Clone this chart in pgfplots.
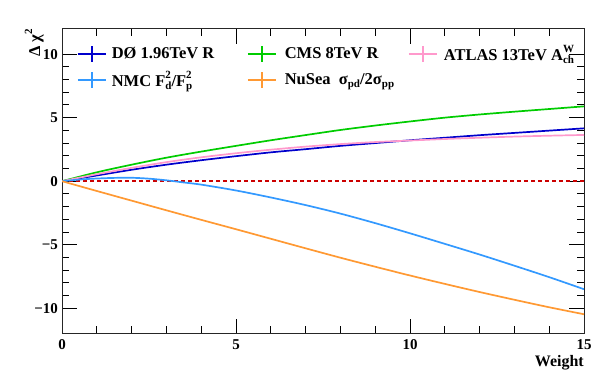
\documentclass[border=0pt]{standalone}
\usepackage{fontspec}
\setmainfont{Liberation Serif}
\usepackage{pgfplots}
\pgfplotsset{compat=1.18}
\definecolor{cDO}{RGB}{0,0,204}
\definecolor{cCMS}{RGB}{0,204,0}
\definecolor{cATL}{RGB}{255,153,204}
\definecolor{cNMC}{RGB}{51,153,255}
\definecolor{cNuS}{RGB}{255,153,51}
\definecolor{cRed}{RGB}{204,0,0}
\newlength\sswa\newlength\sswb
\newcommand\supsub[2]{{\fontsize{11bp}{11bp}\selectfont
 \settowidth\sswa{#1}\settowidth\sswb{#2}%
 \ifdim\sswb>\sswa\setlength\sswa{\sswb}\fi
 \makebox[\sswa][l]{\rlap{\raisebox{0.72em}{#1}}\raisebox{-0.3em}{#2}}}}
\newcommand\sub[1]{{\fontsize{11bp}{11bp}\selectfont\raisebox{-0.3em}{#1}}}
\newcommand\sups[1]{{\fontsize{11bp}{11bp}\selectfont\raisebox{0.72em}{#1}}}
\begin{document}
\begin{tikzpicture}
\useasboundingbox (-62bp,-39.3bp) rectangle (553bp,333.7bp);
\begin{axis}[
  name=ax, at={(0,0)}, anchor=south west,
  scale only axis, width=522bp, height=305bp,
  xmin=0, xmax=15, ymin=-12, ymax=12,
  xtick={0,5,10,15}, ytick={-10,-5,0,5,10},
  yticklabels={−10,−5,0,5,10},
  minor x tick num=4, minor y tick num=4,
  major tick length=15bp, minor tick length=7.5bp,
  tick align=inside,
  axis line style={line width=0.9bp, black!85},
  every tick/.style={line width=0.9bp, black},
  /pgf/number format/assume math mode=true,
  tick label style={font=\fontsize{15bp}{15bp}\selectfont\bfseries},
  xticklabel style={anchor=base, inner sep=0pt, yshift=-16bp},
  yticklabel style={anchor=east, inner sep=0pt, xshift=-4bp},
  xlabel={Weight},
  xlabel style={at={(rel axis cs:1,0)}, anchor=base east, inner sep=0pt, yshift=-33bp, font=\fontsize{16bp}{16bp}\selectfont\bfseries},
  ylabel={Δ χ\sups{2}},
  ylabel style={at={(rel axis cs:-0.0421,1)}, rotate=0, anchor=base east, inner sep=0pt, font=\fontsize{16.5bp}{16.5bp}\selectfont\bfseries},
  legend columns=3,
  legend cell align=left,
  legend style={draw=none, fill=none, at={(rel axis cs:0.028,0.948)}, anchor=north west,
     inner sep=0pt, row sep=8bp, column sep=0pt,
     font=\fontsize{16.5bp}{16.5bp}\selectfont\bfseries,
     nodes={inner sep=0pt}},
  legend image code/.code={
    \draw[#1, solid, line width=2bp] (0bp,0bp) -- (28bp,0bp);
    \draw[#1, solid, line width=2bp] (14bp,-8bp) -- (14bp,8bp);
  },
]
\addplot[cRed, line width=1.5bp, dash pattern=on 4bp off 3bp, forget plot] coordinates {(0,0) (15,0)};
\addplot[cDO, line width=1.7bp, smooth] coordinates {
(0,0) (1,0.45) (2,0.9) (3,1.3) (4,1.65) (5,1.97) (6,2.27) (7,2.52) (8,2.78) (9,3.0) (10,3.22) (11,3.42) (12,3.62) (13,3.8) (14,3.98) (15,4.16)};
\addlegendentry{\makebox[140bp][l]{\hspace{5bp}DØ 1.96TeV R}}
\addplot[cCMS, line width=1.7bp, smooth] coordinates {
(0,0) (1,0.7) (2,1.3) (3,1.85) (4,2.33) (5,2.78) (6,3.22) (7,3.63) (8,4.03) (9,4.38) (10,4.7) (11,5.0) (12,5.25) (13,5.47) (14,5.68) (15,5.89)};
\addlegendentry{\makebox[131bp][l]{\hspace{8bp}CMS 8TeV R}}
\addplot[cATL, line width=1.7bp, smooth] coordinates {
(0,0) (1,0.55) (2,1.05) (3,1.5) (4,1.88) (5,2.2) (6,2.48) (7,2.72) (8,2.92) (9,3.08) (10,3.2) (11,3.32) (12,3.42) (13,3.51) (14,3.58) (15,3.64)};
\addlegendentry{\hspace{6bp}ATLAS 13TeV A\supsub{W}{ch}}
\addplot[cNMC, line width=1.7bp, smooth] coordinates {
(0,0) (0.5,0.13) (1,0.21) (1.5,0.26) (2,0.27) (2.5,0.2) (3,0.07) (3.5,-0.1) (4,-0.27) (5,-0.73) (6,-1.28) (7,-1.88) (8,-2.55) (9,-3.3) (10,-4.1) (11,-4.93) (12,-5.77) (13,-6.65) (14,-7.55) (15,-8.5)};
\addlegendentry{\makebox[140bp][l]{\hspace{5bp}NMC F\supsub{2}{d}/F\supsub{2}{p}}}
\addplot[cNuS, line width=1.7bp, smooth] coordinates {
(0,0) (1,-0.77) (2,-1.53) (3,-2.29) (4,-3.04) (5,-3.78) (6,-4.53) (7,-5.28) (8,-6.02) (9,-6.73) (10,-7.42) (11,-8.08) (12,-8.72) (13,-9.33) (14,-9.92) (15,-10.47)};
\addlegendentry{\makebox[131bp][l]{\hspace{8bp}NuSea\ \ σ\sub{pd}/2σ\sub{pp}}}
\end{axis}
\end{tikzpicture}
\end{document}
